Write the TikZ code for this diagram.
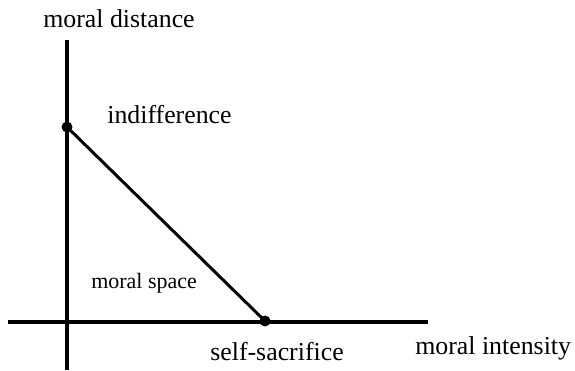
\documentclass[tikz,border=0pt]{standalone}
\usepackage{fontspec}
\setmainfont{Liberation Serif}

\begin{document}
\begin{tikzpicture}[x=0.02cm, y=-0.02cm,
		axis/.style={line width=1.9pt},
		dot/.style={circle, fill=black, inner sep=0pt, minimum size=0.22cm},
		lbl/.style={anchor=base west, inner sep=0pt, font=\fontsize{14.7}{17}\selectfont},
		small/.style={anchor=base west, inner sep=0pt, font=\fontsize{12.5}{15}\selectfont}]
	
	\useasboundingbox (0,0) rectangle (575,370);
	
	% --- Axes ---
	\coordinate (ytop) at (67,40);
	\coordinate (ybot) at (67,370);
	\coordinate (xleft) at (8,322);
	\coordinate (xright) at (428,322);
	\draw[axis] (ybot) -- (ytop);
	\draw[axis] (xleft) -- (xright);
	
	% axis labels
	\node[lbl] (ylab) at (43,27) {moral distance};
	\node[lbl] (xlab) at (415,354) {moral intensity};
	
	% --- Extreme points ---
	\node[dot] (indiff) at (67,127) {};
	\node[dot] (sacrif) at (265,321) {};
	\draw[axis, line width=1.7pt] (indiff.center) -- (sacrif.center);
	
	\node[lbl] (indifflab) at (107,123) {indifference};
	\node[lbl] (sacriflab) at (210,360) {self-sacrifice};
	
	% region label
	\node[small] (space) at (91,288) {moral space};
	
\end{tikzpicture}
\end{document}
